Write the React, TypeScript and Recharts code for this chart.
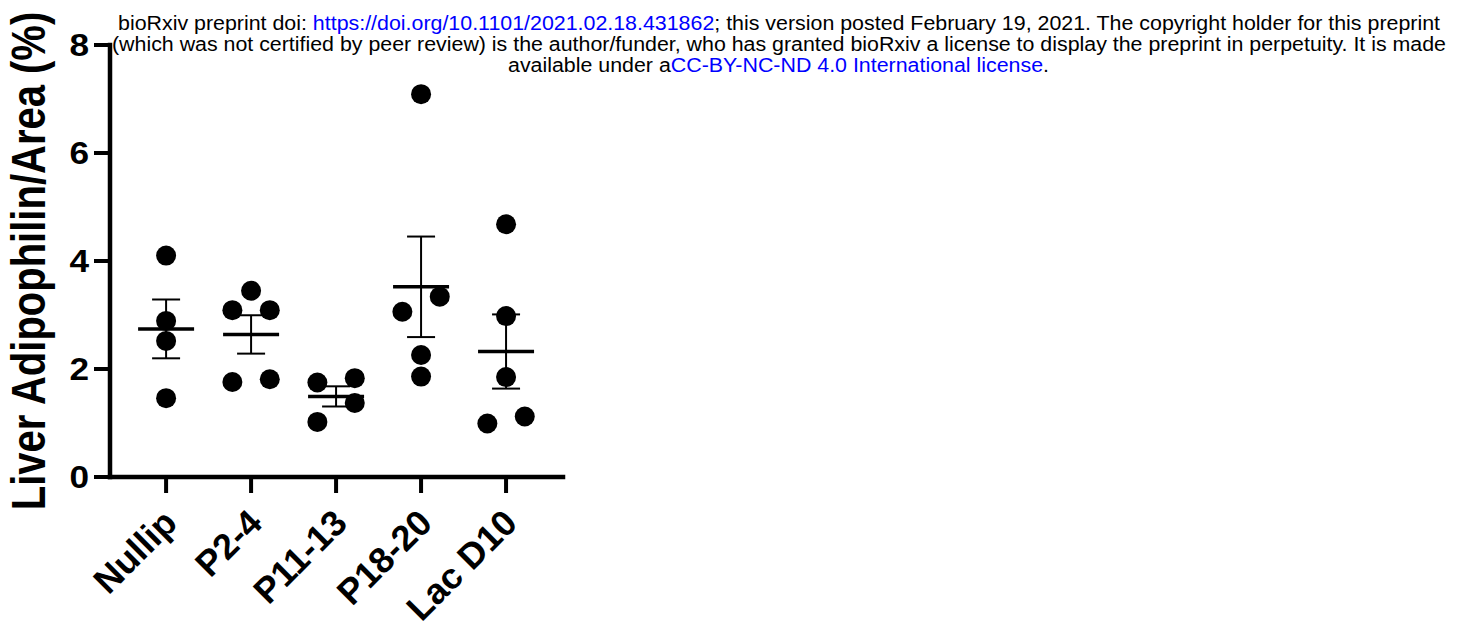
import React from "react";
import { ScatterChart, Scatter, XAxis, YAxis, ErrorBar } from "recharts";

// groups on the x axis
const groups = ["Nullip", "P2-4", "P11-13", "P18-20", "Lac D10"];

// liver adipophilin / area (%) per animal
const nullip = [4.1, 2.89, 2.52, 1.46];
const p2to4 = [3.45, 3.09, 3.09, 1.76, 1.81];
const p11to13 = [1.75, 1.83, 1.37, 1.02];
const p18to20 = [7.09, 3.06, 3.34, 2.26, 1.86];
const lacD10 = [4.68, 2.98, 1.85, 0.99, 1.12];

// horizontal scatter offsets (in group units) so overlapping dots separate
const nullipJitter = [0, 0, 0, 0];
const p2to4Jitter = [0, -0.22, 0.22, -0.22, 0.22];
const p11to13Jitter = [-0.22, 0.22, 0.22, -0.22];
const p18to20Jitter = [0, -0.22, 0.22, 0, 0];
const lacD10Jitter = [0, 0, 0, -0.22, 0.22];

const yTicks = [0, 2, 4, 6, 8];
const xTicks = [0, 1, 2, 3, 4];

const values = [nullip, p2to4, p11to13, p18to20, lacD10];
const jitters = [nullipJitter, p2to4Jitter, p11to13Jitter, p18to20Jitter, lacD10Jitter];

const points = values.flatMap((vals, g) =>
  vals.map((v, i) => ({ x: g + jitters[g][i], y: v }))
);

// mean ± SEM per group
const summary = values.map((vals, g) => {
  const n = vals.length;
  const mean = vals.reduce((a, b) => a + b, 0) / n;
  const sd = Math.sqrt(vals.reduce((a, b) => a + (b - mean) ** 2, 0) / (n - 1));
  return { x: g, y: mean, sem: sd / Math.sqrt(n) };
});

const FONT = '"Liberation Sans", Arial, sans-serif';

const Dot = (props: any) => <circle cx={props.cx} cy={props.cy} r={10} fill="#000" />;

const MeanLine = (props: any) => (
  <line
    x1={props.cx - 28}
    x2={props.cx + 28}
    y1={props.cy}
    y2={props.cy}
    stroke="#000"
    strokeWidth={3.5}
  />
);

const YTick = (props: any) => {
  const { x, y, payload } = props;
  return (
    <text
      transform={`translate(${x},${y}) scale(1.1,1)`}
      textAnchor="end"
      dy="0.355em"
      fontSize={32}
      fontWeight="bold"
      fontFamily={FONT}
      fill="#000"
    >
      {payload.value}
    </text>
  );
};

const XTick = (props: any) => {
  const { x, y, payload } = props;
  return (
    <text
      transform={`translate(${x + 13},${y + 30}) rotate(-45)`}
      textAnchor="end"
      fontSize={36}
      fontWeight="bold"
      fontFamily={FONT}
      fill="#000"
    >
      {groups[payload.value]}
    </text>
  );
};

const YLabel = () => (
  <text
    transform="translate(45,261) scale(1.22,1) rotate(-90)"
    textAnchor="middle"
    fontSize={40}
    fontWeight="bold"
    fontFamily={FONT}
    fill="#000"
  >
    Liver Adipophilin/Area (%)
  </text>
);

const BLUE = "#0000ff";

function Header() {
  return (
    <svg
      width={1466}
      height={90}
      style={{ position: "absolute", left: 0, top: 0, pointerEvents: "none" }}
    >
      <g fontFamily={FONT} fontSize={20} fill="#000">
        <text x={118} y={30} textLength={1322} lengthAdjust="spacingAndGlyphs">
          bioRxiv preprint doi:{" "}
          <tspan fill={BLUE}>https://doi.org/10.1101/2021.02.18.431862</tspan>; this version
          posted February 19, 2021. The copyright holder for this preprint
        </text>
        <text x={112} y={51} textLength={1334} lengthAdjust="spacingAndGlyphs">
          (which was not certified by peer review) is the author/funder, who has granted bioRxiv a
          license to display the preprint in perpetuity. It is made
        </text>
        <text x={508} y={72} textLength={541} lengthAdjust="spacingAndGlyphs">
          available under a<tspan fill={BLUE}>CC-BY-NC-ND 4.0 International license</tspan>.
        </text>
      </g>
    </svg>
  );
}

export default function App() {
  return (
    <div style={{ position: "absolute", left: 0, top: 0, width: 1466, height: 633, background: "#fff" }}>
      <ScatterChart
        width={1466}
        height={633}
        margin={{ top: 45, right: 903, bottom: 0, left: 0 }}
      >
        <XAxis
          type="number"
          dataKey="x"
          domain={[-0.66, 4.67]}
          ticks={xTicks}
          height={156}
          allowDataOverflow
          interval={0}
          tick={<XTick />}
          tickSize={16}
          axisLine={{ stroke: "#000", strokeWidth: 4.5, strokeLinecap: "square" }}
          tickLine={{ stroke: "#000", strokeWidth: 4 }}
        />
        <YAxis
          type="number"
          dataKey="y"
          domain={[0, 8]}
          ticks={yTicks}
          width={110}
          interval={0}
          tick={<YTick />}
          tickSize={16}
          tickMargin={5}
          axisLine={{ stroke: "#000", strokeWidth: 4.5, strokeLinecap: "square" }}
          tickLine={{ stroke: "#000", strokeWidth: 4 }}
          label={<YLabel />}
        />
        <Scatter data={points} shape={<Dot />} isAnimationActive={false} />
        <Scatter data={summary} shape={<MeanLine />} isAnimationActive={false}>
          <ErrorBar dataKey="sem" direction="y" width={14} stroke="#000" strokeWidth={2} />
        </Scatter>
      </ScatterChart>
      <Header />
    </div>
  );
}
